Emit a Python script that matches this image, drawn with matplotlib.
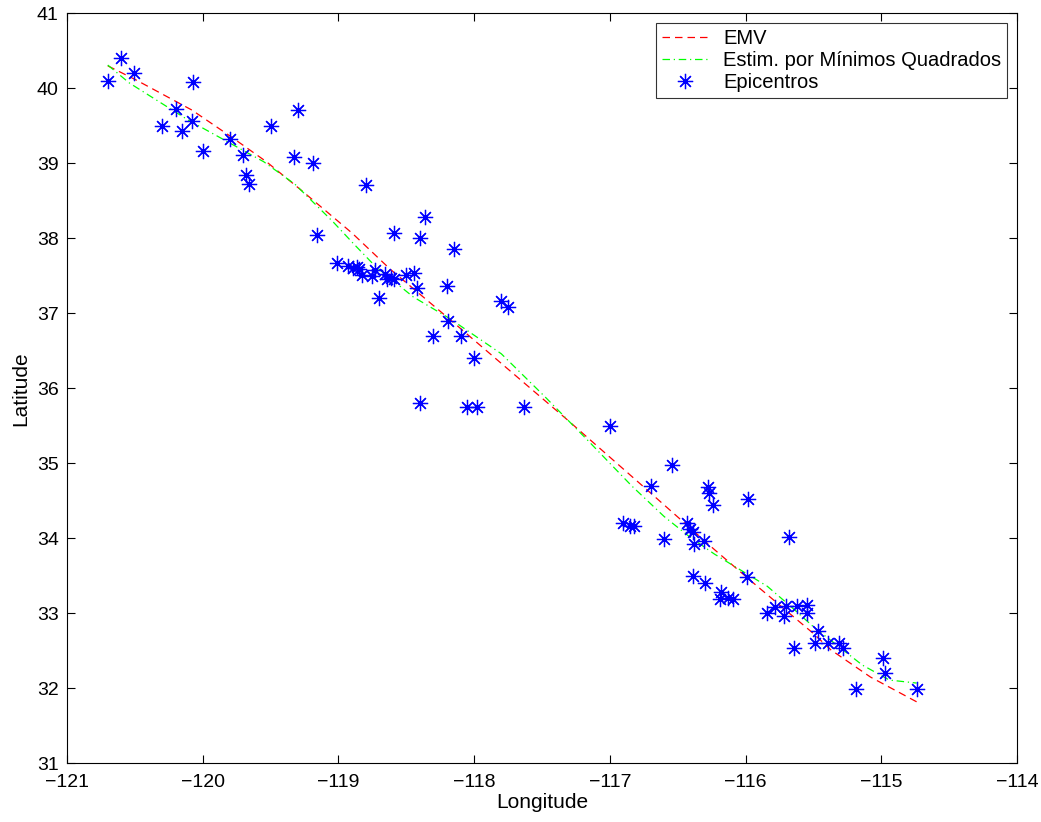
import matplotlib.pyplot as plt

plt.rcParams['font.family'] = ['Liberation Sans', 'DejaVu Sans']

# epicentros (longitude, latitude)
lon = [-120.70, -120.60, -120.51, -120.07, -120.20, -120.30, -120.15, -120.08,
       -120.00, -119.80, -119.50, -119.30, -119.70, -119.33, -119.19, -119.68,
       -119.66, -119.16, -118.80, -118.59, -118.36, -118.40, -118.15,
       -119.01, -118.93, -118.89, -118.86, -118.85, -118.83, -118.75, -118.73,
       -118.66, -118.64, -118.61, -118.59, -118.50, -118.44, -118.42, -118.70,
       -118.20, -118.19, -118.30, -118.10, -118.00, -118.40, -118.05, -117.98,
       -117.63, -117.80, -117.75,
       -117.00, -116.54, -116.70, -116.28, -116.27, -116.24, -115.98, -116.90,
       -116.85, -116.82, -116.60, -116.43, -116.41, -116.39, -116.38, -116.31,
       -115.68, -115.99, -116.39, -116.30, -116.18, -116.19, -116.13, -116.09,
       -115.84, -115.78, -115.72, -115.70, -115.62, -115.55, -115.55, -115.64,
       -115.47, -115.49, -115.39, -115.31, -115.28, -115.19, -114.99, -114.97,
       -114.74]
lat = [40.10, 40.41, 40.21, 40.09, 39.73, 39.50, 39.43, 39.56,
       39.16, 39.33, 39.50, 39.71, 39.11, 39.08, 39.00, 38.84,
       38.73, 38.04, 38.71, 38.07, 38.29, 38.00, 37.86,
       37.67, 37.63, 37.60, 37.62, 37.59, 37.51, 37.50, 37.58,
       37.52, 37.46, 37.47, 37.46, 37.51, 37.54, 37.34, 37.20,
       37.37, 36.90, 36.70, 36.70, 36.40, 35.80, 35.75, 35.75,
       35.75, 37.17, 37.09,
       35.50, 34.98, 34.70, 34.68, 34.60, 34.44, 34.53, 34.20,
       34.16, 34.17, 33.99, 34.20, 34.13, 34.09, 33.93, 33.96,
       34.02, 33.48, 33.50, 33.40, 33.28, 33.19, 33.21, 33.19,
       33.01, 33.09, 32.96, 33.10, 33.10, 33.11, 33.01, 32.54,
       32.76, 32.61, 32.60, 32.61, 32.54, 31.99, 32.41, 32.21,
       31.99]

# curva EMV
emv_lon = [-120.70, -120.49, -120.08, -119.78, -119.53, -119.26, -118.90, -118.62,
           -118.18, -117.76, -117.32, -116.76, -116.51, -116.23, -115.94, -115.50,
           -115.37, -115.08, -114.74]
emv_lat = [40.30, 40.11, 39.71, 39.34, 39.02, 38.62, 38.07, 37.59,
           36.92, 36.27, 35.59, 34.70, 34.30, 33.85, 33.40, 32.73,
           32.51, 32.15, 31.82]

# curva minimos quadrados
mq_lon = [-120.70, -120.54, -120.11, -119.75, -119.55, -119.32, -119.04, -118.89,
          -118.73, -118.45, -118.18, -117.80, -117.48, -117.16, -116.84, -116.60,
          -116.42, -116.23, -116.04, -115.84, -115.66, -115.50, -115.14, -114.94,
          -114.74]
mq_lat = [40.31, 40.07, 39.58, 39.22, 39.02, 38.72, 38.22, 37.93,
          37.63, 37.22, 36.93, 36.46, 35.89, 35.30, 34.70, 34.29,
          34.03, 33.79, 33.58, 33.36, 33.08, 32.82, 32.31, 32.11,
          32.07]

fig = plt.figure(figsize=(10.41, 8.22), dpi=100)
ax = fig.add_axes([0.0644, 0.0714, 0.9126, 0.9124])

ax.plot(emv_lon, emv_lat, color=(1, 0, 0), linestyle=(0, (6, 4)), linewidth=0.9, label='EMV')
ax.plot(mq_lon, mq_lat, color=(0, 1, 0), linestyle=(0, (6, 3, 1, 3)), linewidth=0.9,
        label='Estim. por Mínimos Quadrados')
ax.plot(lon, lat, linestyle='none', marker=(8, 2, 0), markersize=11, markeredgewidth=0.9,
        color=(0, 0, 1), label='Epicentros')

ax.set_xlim(-121, -114)
ax.set_ylim(31, 41)
ax.set_xticks(range(-121, -113))
ax.set_yticks(range(31, 42))
ax.tick_params(direction='in', top=True, right=True, length=6, width=0.8, labelsize=14)
ax.tick_params(axis='x', pad=8)
ax.tick_params(axis='y', pad=6)
for s in ax.spines.values():
    s.set_linewidth(0.8)

ax.set_xlabel('Longitude', fontsize=15, labelpad=1)
ax.set_ylabel('Latitude', fontsize=15, labelpad=5)

leg = ax.legend(loc='upper right', bbox_to_anchor=(0.9895, 0.987), fontsize=14.5, frameon=True,
                fancybox=False, edgecolor='black', handlelength=2.2, borderpad=0.3,
                labelspacing=0.15, handletextpad=0.8, borderaxespad=0)
leg.get_frame().set_linewidth(0.8)

fig.savefig('out.png', dpi=100)
